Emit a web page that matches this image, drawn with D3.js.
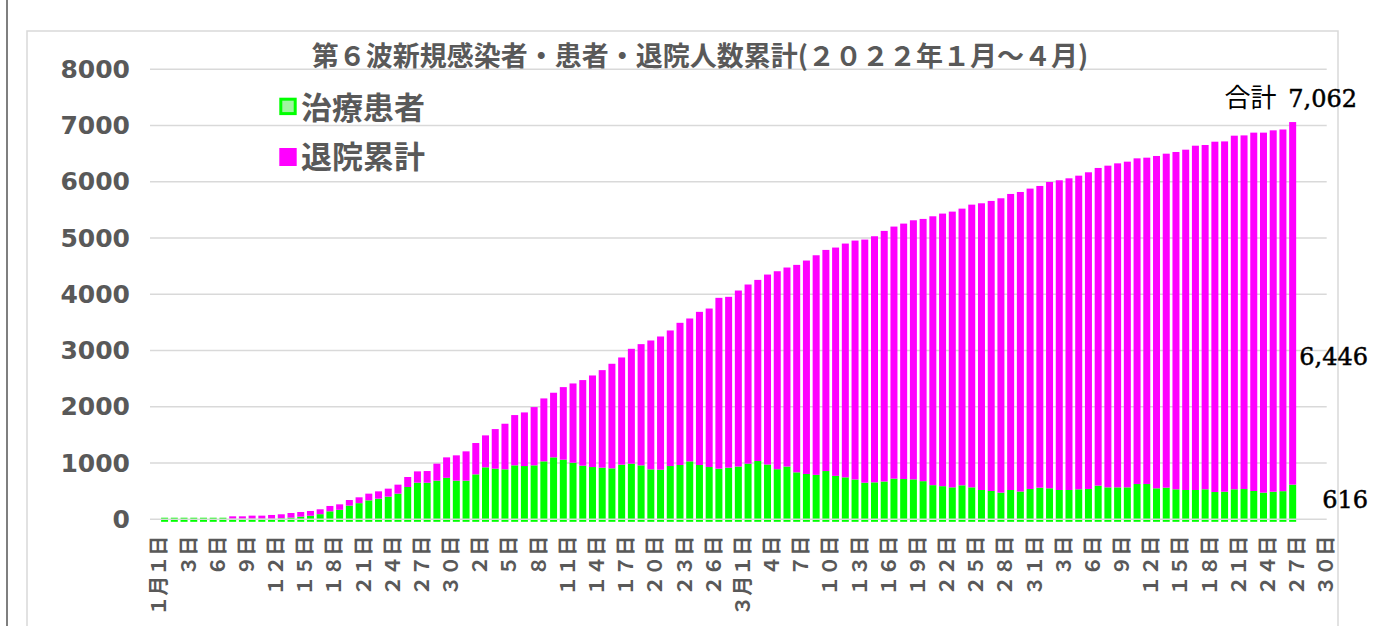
<!DOCTYPE html>
<html>
<head>
<meta charset="utf-8">
<script src="https://cdn.jsdelivr.net/npm/d3@7"></script>
<style>
  body { margin: 0; background: #fff; }
  svg { display: block; }
</style>
</head>
<body>
<script>
// ---- data ----
const title = "第６波新規感染者・患者・退院人数累計(２０２２年１月～４月)";
const seriesNames = ["治療患者", "退院累計"];
const seriesColors = ["#00ff00", "#ff00ff"];

// one label every 3rd slot (121 slots, bars in slots 1..117)
const tickLabels = [
  "１月１日", "３日", "６日", "９日", "１２日", "１５日", "１８日", "２１日", "２４日", "２７日", "３０日",
  "２日", "５日", "８日", "１１日", "１４日", "１７日", "２０日", "２３日", "２６日",
  "３月１日", "４日", "７日", "１０日", "１３日", "１６日", "１９日", "２２日", "２５日", "２８日", "３１日",
  "３日", "６日", "９日", "１２日", "１５日", "１８日", "２１日", "２４日", "２７日", "３０日"
];
const slotCount = 121;

// 治療患者 (patients under treatment)
const patients = [
  28, 28, 28, 28, 28, 28, 28, 12, 12, 12,
  12, 12, 18, 30, 47, 63, 91, 142, 169, 243,
  287, 337, 367, 403, 456, 574, 651, 650, 687, 737,
  687, 687, 799, 924, 900, 888, 959, 947, 959, 1030,
  1101, 1060, 1006, 953, 929, 918, 906, 971, 989, 959,
  888, 882, 947, 965, 1030, 965, 929, 900, 918, 938,
  989, 1036, 974, 891, 938, 835, 805, 790, 858, 772,
  746, 707, 651, 657, 672, 722, 716, 710, 678, 607,
  589, 568, 604, 568, 521, 503, 474, 521, 494, 539,
  562, 551, 521, 521, 533, 539, 598, 568, 568, 568,
  627, 627, 551, 562, 533, 521, 521, 533, 485, 490,
  533, 538, 503, 474, 490, 500, 616
];

// 退院累計 (cumulative discharged)
const discharged = [
  0, 0, 0, 0, 0, 0, 0, 41, 41, 53,
  53, 65, 71, 82, 83, 85, 87, 95, 97, 100,
  104, 119, 130, 142, 160, 178, 201, 208, 302, 364,
  450, 521, 557, 568, 704, 811, 894, 953, 1036, 1119,
  1149, 1290, 1409, 1522, 1628, 1734, 1859, 1906, 2042, 2155,
  2291, 2368, 2410, 2528, 2540, 2723, 2818, 3037, 3037, 3129,
  3185, 3220, 3377, 3519, 3538, 3688, 3795, 3904, 3931, 4059,
  4156, 4248, 4322, 4375, 4455, 4482, 4541, 4606, 4662, 4780,
  4846, 4902, 4919, 5026, 5097, 5157, 5233, 5263, 5325, 5340,
  5364, 5446, 5506, 5541, 5576, 5630, 5648, 5719, 5760, 5790,
  5790, 5802, 5908, 5938, 5997, 6050, 6121, 6121, 6228, 6228,
  6287, 6287, 6371, 6400, 6425, 6430, 6446
];

const yTicks = [0, 1000, 2000, 3000, 4000, 5000, 6000, 7000, 8000];

// ---- layout ----
const W = 1373, H = 626;
const plot = { left: 150, right: 1326.7, top: 69.3, bottom: 519.3 };
const grey = "#595959";

const svg = d3.select("body").append("svg")
  .attr("width", W)
  .attr("height", H);

// frame
svg.append("rect")
  .attr("x", 27).attr("y", 31)
  .attr("width", 1311).attr("height", 700)
  .attr("fill", "none")
  .attr("stroke", "#d9d9d9")
  .attr("stroke-width", 1.5);
svg.append("line")
  .attr("x1", 7).attr("x2", 7)
  .attr("y1", 0).attr("y2", H)
  .attr("stroke", "#555")
  .attr("stroke-width", 1.5);

const x = d3.scaleBand()
  .domain(d3.range(slotCount))
  .range([plot.left, plot.right])
  .paddingInner(0.28)
  .paddingOuter(0.14);

const y = d3.scaleLinear()
  .domain([0, 8000])
  .range([plot.bottom, plot.top]);

// gridlines
svg.append("g").selectAll("line")
  .data(yTicks.filter(d => d > 0))
  .join("line")
  .attr("x1", plot.left).attr("x2", plot.right)
  .attr("y1", d => y(d)).attr("y2", d => y(d))
  .attr("stroke", "#d9d9d9")
  .attr("stroke-width", 1.6);

// stacked bars
const rows = patients.map((p, i) => ({
  slot: i + 1,
  [seriesNames[0]]: p,
  [seriesNames[1]]: discharged[i]
}));
const stacked = d3.stack().keys(seriesNames)(rows);

svg.append("g").selectAll("g")
  .data(stacked)
  .join("g")
  .attr("fill", (d, i) => seriesColors[i])
  .selectAll("rect")
  .data(d => d.filter(s => s[1] > s[0]))
  .join("rect")
  .attr("x", d => x(d.data.slot))
  .attr("width", x.bandwidth())
  .attr("y", d => y(d[1]))
  .attr("height", d => y(d[0]) - y(d[1]) + (d[0] === 0 ? 2.5 : 0));

// zero line over the bars
svg.append("line")
  .attr("x1", plot.left).attr("x2", plot.right)
  .attr("y1", y(0)).attr("y2", y(0))
  .attr("stroke", "#d9d9d9")
  .attr("stroke-width", 1.6);

// y axis
const yAxis = svg.append("g")
  .attr("transform", `translate(${plot.left},0)`)
  .call(d3.axisLeft(y).tickValues(yTicks).tickSize(0).tickPadding(20).tickFormat(d3.format("d")));
yAxis.select(".domain").remove();
yAxis.selectAll("text")
  .attr("fill", grey)
  .style("font-family", "'DejaVu Sans', sans-serif")
  .style("font-weight", "bold")
  .style("font-size", "25px");

// x axis
const xAxis = svg.append("g")
  .attr("transform", `translate(0,${plot.bottom})`)
  .call(d3.axisBottom(x)
    .tickValues(d3.range(0, slotCount, 3))
    .tickSize(0)
    .tickFormat((d, i) => tickLabels[i]));
xAxis.select(".domain").remove();
xAxis.selectAll("text")
  .attr("transform", "rotate(-90)")
  .attr("x", -16.5)
  .attr("y", 3)
  .attr("dy", null)
  .attr("text-anchor", "end")
  .attr("dominant-baseline", "central")
  .attr("fill", grey)
  .style("font-family", "'Noto Sans CJK JP', sans-serif")
  .style("font-weight", "bold")
  .style("font-size", "20px");

// title
svg.append("text")
  .attr("x", 700).attr("y", 66)
  .attr("text-anchor", "middle")
  .attr("fill", grey)
  .style("font-family", "'Noto Sans CJK JP', sans-serif")
  .style("font-weight", "bold")
  .style("font-size", "27px")
  .text(title);

// legend
const legend = svg.append("g");
legend.append("rect")
  .attr("x", 280.8).attr("y", 99.2).attr("width", 14.4).attr("height", 14.4)
  .attr("fill", "#a0f5a0").attr("stroke", seriesColors[0]).attr("stroke-width", 3);
legend.append("rect")
  .attr("x", 279.3).attr("y", 148).attr("width", 17.4).attr("height", 18)
  .attr("fill", seriesColors[1]);
legend.selectAll("text")
  .data(seriesNames)
  .join("text")
  .attr("x", 301)
  .attr("y", (d, i) => 119 + i * 49)
  .attr("fill", grey)
  .style("font-family", "'Noto Sans CJK JP', sans-serif")
  .style("font-weight", "bold")
  .style("font-size", "31px")
  .text(d => d);

// value annotations
const last = rows[rows.length - 1];
const lastTotal = last[seriesNames[0]] + last[seriesNames[1]];
const fmt = d3.format(",");
const note = svg.append("g")
  .attr("fill", "#000")
  .attr("stroke", "#000")
  .attr("stroke-width", 0.5)
  .style("font-family", "'DejaVu Serif', serif")
  .style("font-size", "24px")
  .attr("text-anchor", "end");
const totalText = note.append("text").attr("x", 1357).attr("y", 107);
totalText.append("tspan")
  .attr("stroke-width", 0)
  .style("font-family", "'Noto Sans CJK JP', sans-serif")
  .style("font-size", "26px")
  .text("合計 ");
totalText.append("tspan").attr("dx", 6).text(fmt(lastTotal));
note.append("text").attr("x", 1368).attr("y", 365).text(fmt(last[seriesNames[1]]));
note.append("text").attr("x", 1368).attr("y", 508).text(fmt(last[seriesNames[0]]));
</script>
</body>
</html>
